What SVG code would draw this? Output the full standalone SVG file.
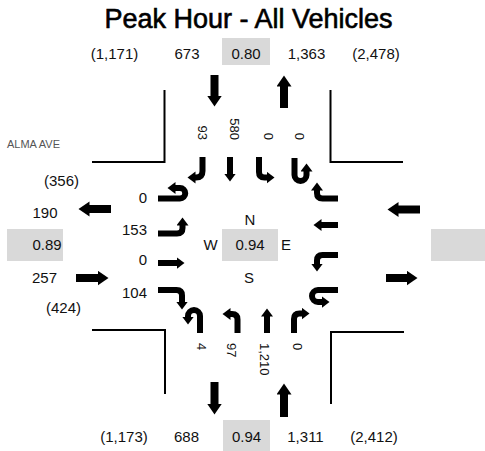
<svg xmlns="http://www.w3.org/2000/svg" width="485" height="451" viewBox="0 0 485 451">
<style>
text{font-family:"Liberation Sans",Arial,sans-serif;fill:#111;}
.t{font-size:15px;}
.m{text-anchor:middle;}
.e{text-anchor:end;}
.r{font-size:13px;}
.title{font-size:27px;text-anchor:middle;fill:#000;stroke:#000;stroke-width:0.6;}
.street{font-size:11px;fill:#555;}
.box{fill:#d9d9d9;}
.curb{fill:none;stroke:#000;stroke-width:2;}
.big{fill:none;stroke:#000;stroke-width:8;marker-end:url(#hb);}
.sm{fill:none;stroke:#000;stroke-width:6;marker-end:url(#hs);}
</style>
<defs>
<marker id="hb" markerUnits="userSpaceOnUse" markerWidth="12" markerHeight="16" refX="0.5" refY="7.5" orient="auto">
<path d="M0,0 L11,7.5 L0,15 z" fill="#000"/>
</marker>
<marker id="hs" markerUnits="userSpaceOnUse" markerWidth="9" markerHeight="13" refX="0.5" refY="6" orient="auto">
<path d="M0,0 L8,6 L0,12 z" fill="#000"/>
</marker>
</defs>
<rect width="485" height="451" fill="#fff"/>
<text class="title" x="248.5" y="28">Peak Hour - All Vehicles</text>

<g id="curbs">
<path class="curb" d="M164.5,90 V162 H92"/>
<path class="curb" d="M330.5,90 V162 H403"/>
<path class="curb" d="M92,330 H165 V394"/>
<path class="curb" d="M404,332 H331 V404"/>
</g>

<g id="north-leg">
<text class="t m" x="114.5" y="59">(1,171)</text>
<text class="t m" x="187" y="59">673</text>
<rect class="box" x="222" y="38" width="48" height="27"/>
<text class="t m" x="246" y="59">0.80</text>
<text class="t m" x="306.5" y="59">1,363</text>
<text class="t m" x="376" y="59">(2,478)</text>
<text class="r e" transform="translate(198,140) rotate(90)">93</text>
<text class="r e" transform="translate(230,140) rotate(90)">580</text>
<text class="r e" transform="translate(264,140) rotate(90)">0</text>
<text class="r e" transform="translate(295,140) rotate(90)">0</text>
</g>

<g id="south-leg">
<text class="t m" x="124" y="442">(1,173)</text>
<text class="t m" x="186.5" y="442">688</text>
<rect class="box" x="223" y="420" width="47" height="31"/>
<text class="t m" x="246.5" y="442">0.94</text>
<text class="t m" x="305.5" y="442">1,311</text>
<text class="t m" x="374" y="442">(2,412)</text>
<text class="r" transform="translate(197,343) rotate(90)">4</text>
<text class="r" transform="translate(227,343) rotate(90)">97</text>
<text class="r" transform="translate(260,343) rotate(90)">1,210</text>
<text class="r" transform="translate(293,343) rotate(90)">0</text>
</g>

<g id="west-leg">
<text class="street" x="7" y="148">ALMA AVE</text>
<text class="t m" x="61.5" y="186">(356)</text>
<text class="t m" x="45" y="218">190</text>
<rect class="box" x="7" y="229" width="56" height="32"/>
<text class="t m" x="47" y="250">0.89</text>
<text class="t m" x="44.5" y="283">257</text>
<text class="t m" x="63.5" y="313">(424)</text>
<text class="t e" x="147" y="203">0</text>
<text class="t e" x="147" y="235">153</text>
<text class="t e" x="147" y="265">0</text>
<text class="t e" x="147" y="298">104</text>
</g>

<g id="east-leg">
<rect class="box" x="431" y="229" width="54" height="32"/>
</g>

<g id="center">
<text class="t m" x="250" y="225">N</text>
<text class="t m" x="210.5" y="250">W</text>
<rect class="box" x="222" y="229" width="56" height="32"/>
<text class="t m" x="250" y="250">0.94</text>
<text class="t m" x="286" y="250">E</text>
<text class="t m" x="249" y="283">S</text>
</g>

<g id="connectors">
<path class="big" d="M214.5,75 V96"/>
<path class="big" d="M284,108 V86"/>
<path class="big" d="M214.5,382 V404"/>
<path class="big" d="M284,417 V394"/>
<path class="big" d="M111,209 H89"/>
<path class="big" d="M76,278 H98"/>
<path class="big" d="M420,209.5 H398"/>
<path class="big" d="M386,278 H407"/>

<path class="sm" d="M202.5,157 V171 Q202.5,177.5 196,177.5 H195"/>
<path class="sm" d="M230,157 V174"/>
<path class="sm" d="M259,157 V172 Q259,177.5 264.5,177.5 H267"/>
<path class="sm" d="M294.5,158 V175 A6,6 0 0 0 306.5,175 V171"/>

<path class="sm" d="M158,198.5 H180 A5.25,5.25 0 0 0 180,188 H175"/>
<path class="sm" d="M158,233.5 H177 Q182.5,233.5 182.5,228 V225"/>
<path class="sm" d="M158,263 H177"/>
<path class="sm" d="M158,290 H176.5 Q182,290 182,295.5 V302"/>

<path class="sm" d="M338,198.5 H322.5 Q317,198.5 317,193 V190"/>
<path class="sm" d="M338,225 H321"/>
<path class="sm" d="M338,255 H322.5 Q317,255 317,260.5 V264"/>
<path class="sm" d="M338,290 H318 A6,6 0 0 0 318,302 H322"/>

<path class="sm" d="M200,333 V316 A6,6 0 0 0 188,316 V317"/>
<path class="sm" d="M237.5,333 V319.5 Q237.5,314 232,314 H230"/>
<path class="sm" d="M267,333 V316"/>
<path class="sm" d="M294,333 V319 Q294,313.5 299.5,313.5 H302"/>
</g>
</svg>
